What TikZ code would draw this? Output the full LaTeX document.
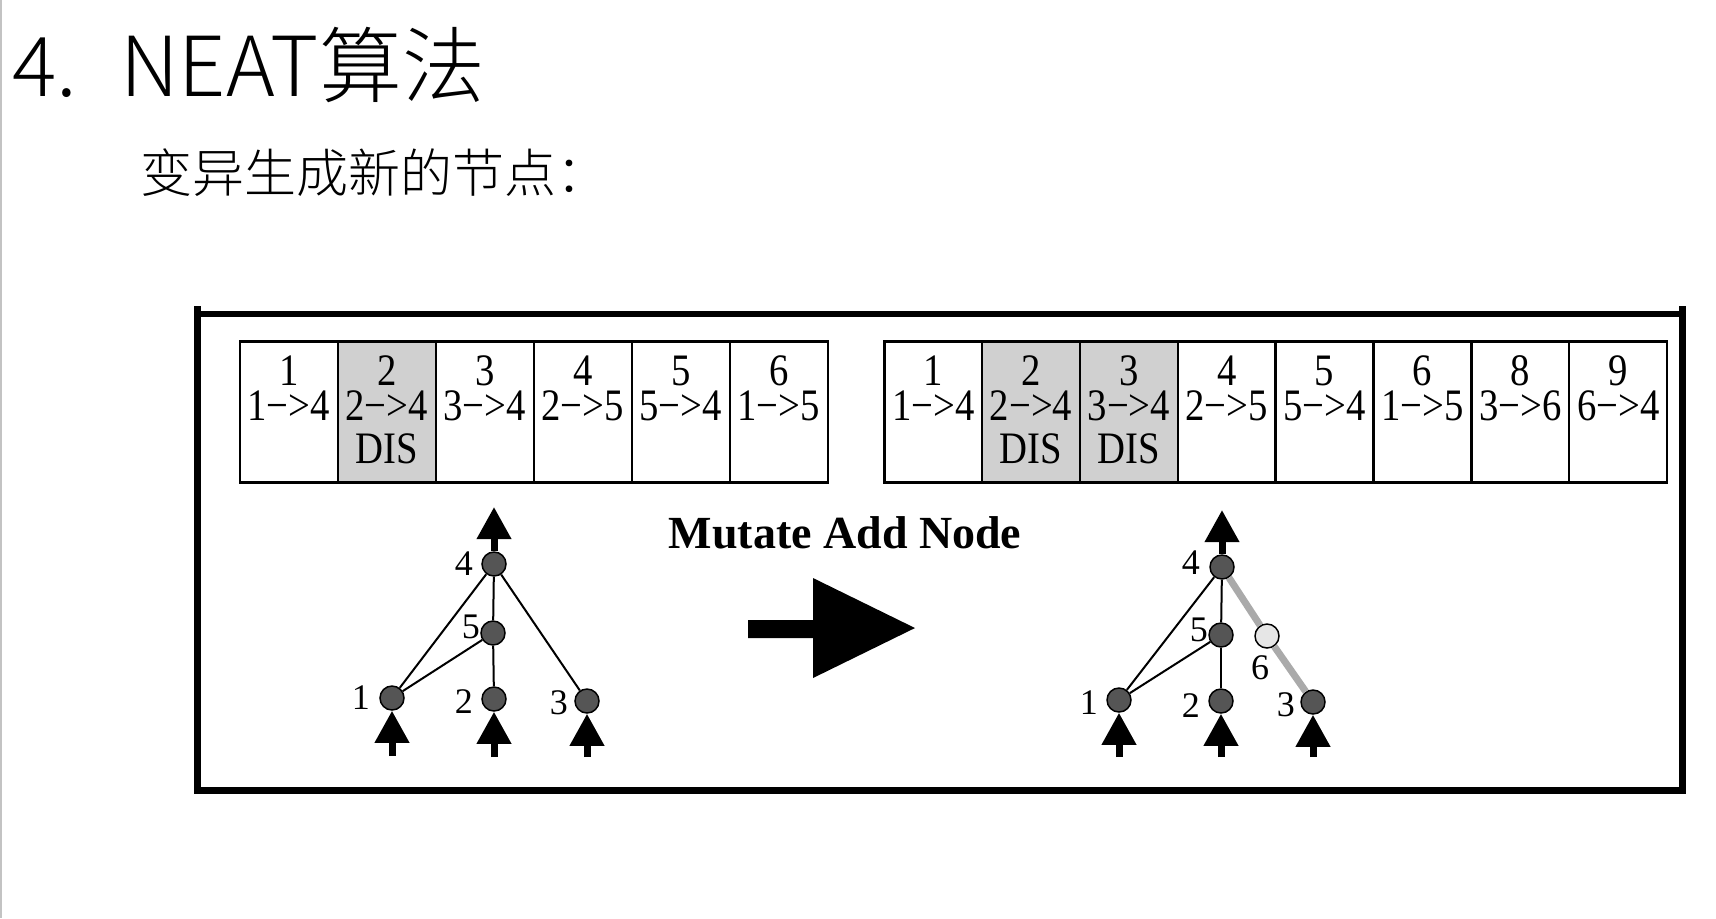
\documentclass[tikz,border=0pt]{standalone}
\usepackage{fontspec}
\setmainfont{Liberation Serif}
\IfFontExistsTF{Noto Sans CJK SC Light}
  {\newfontfamily\cjk{Noto Sans CJK SC Light}}
  {\newfontfamily\cjk{Noto Sans CJK SC}}
\usetikzlibrary{arrows.meta,positioning,calc}
\usepackage{xcolor}
\definecolor{celldis}{RGB}{208,208,208}
\definecolor{neurongray}{RGB}{85,85,85}
\definecolor{neuronnew}{RGB}{230,230,230}
\definecolor{linknew}{RGB}{170,170,170}
\definecolor{slideedge}{RGB}{195,195,195}
% one gene: name, x, innovation, connection, status, fill
\newcommand{\genecell}[6]{%
  \node[genebox, fill=#6] (#1) at (#2,340) {};
  \node[genetext] (#1text) at ($(#1.north)+(0,15.3)$) {#3\\#4\\[3.5pt]#5};}

\begin{document}
\begin{tikzpicture}[x=0.5pt, y=-0.5pt,
  genebox/.style={draw=black, line width=1.25pt, minimum width=49pt,
                  minimum height=70.5pt, anchor=north west, inner sep=0pt},
  genetext/.style={anchor=north, inner sep=0pt, align=center,
                   font=\fontsize{22.5}{17.65}\selectfont, xscale=0.86},
  neuron/.style={circle, draw=black, line width=0.75pt, fill=neurongray,
                 minimum size=12pt, inner sep=0pt},
  newneuron/.style={neuron, fill=neuronnew},
  link/.style={line width=1pt},
  newlink/.style={line width=3.5pt, draw=linknew},
  inarrow/.style={line width=3.5pt, -{Triangle[length=16pt, width=16.5pt]}},
  label distance=4pt,
  every label/.style={font=\fontsize{18}{18}\selectfont, inner sep=0pt}]

\useasboundingbox (0,0) rectangle (1716,918);
\draw[slideedge, line width=1pt] (1,0) -- (1,918);

% heading
\node[anchor=base west, inner sep=0pt, font=\cjk\fontsize{41.4}{41.4}\selectfont]
  (titlenum) at (12,96) {4.};
\node[anchor=base west, inner sep=0pt, font=\cjk\fontsize{41.4}{41.4}\selectfont]
  (title) at (120,96) {NEAT算法};
\node[anchor=base west, inner sep=0pt, font=\cjk\fontsize{26}{26}\selectfont]
  (subtitle) at (140,192) {变异生成新的节点：};

% frame
\draw[line width=3.5pt] (197,306) -- (197,790) -- (1682,790) -- (1682,306);
\draw[line width=2.75pt] (197,314) -- (1682,314);

% genomes
\foreach \innov/\conn/\off [count=\i from 0] in
  {1/1−>4/0,2/2−>4/1,3/3−>4/0,4/2−>5/0,5/5−>4/0,6/1−>5/0}{
  \ifnum\off=1 \genecell{pa\i}{238.5+98*\i}{\innov}{\conn}{DIS}{celldis}%
  \else \genecell{pa\i}{238.5+98*\i}{\innov}{\conn}{}{white}\fi}
\foreach \innov/\conn/\off [count=\i from 0] in
  {1/1−>4/0,2/2−>4/1,3/3−>4/1,4/2−>5/0,5/5−>4/0,6/1−>5/0,8/3−>6/0,9/6−>4/0}{
  \ifnum\off=1 \genecell{pb\i}{883+97.85*\i}{\innov}{\conn}{DIS}{celldis}%
  \else \genecell{pb\i}{883+97.85*\i}{\innov}{\conn}{}{white}\fi}

% network before
\node[neuron, label=left:4] (a4) at (494,564) {};
\node[neuron, label={[label distance=0pt, yshift=3pt]left:5}] (a5) at (493,633) {};
\node[neuron, label={[label distance=4.5pt]left:1}] (a1) at (392,698) {};
\node[neuron, label={[yshift=-1.5pt]left:2}] (a2) at (494,699) {};
\node[neuron, label={[yshift=-1pt, label distance=3pt]left:3}] (a3) at (587,701) {};
\coordinate (a4out) at (494,507);
\coordinate (a1in) at (392,756);
\coordinate (a2in) at (494,757);
\coordinate (a3in) at (587,757);
\draw[link] (a4) -- (a1);
\draw[link] (a4) -- (a5);
\draw[link] (a4) -- (a3);
\draw[link] (a5) -- (a1);
\draw[link] (a5) -- (a2);
\draw[inarrow] (a4) -- (a4out);
\draw[inarrow] (a1in) -- (a1);
\draw[inarrow] (a2in) -- (a2);
\draw[inarrow] (a3in) -- (a3);

% mutation
\node[font=\bfseries\fontsize{23}{23}\selectfont] (mutlabel) at (845,533) {Mutate Add Node};
\fill (748,620) -- (813,620) -- (813,578) -- (915,628) -- (813,678)
  -- (813,638) -- (748,638) -- cycle;

% network after
\node[neuron, label={[yshift=2pt, label distance=4.5pt]left:4}] (b4) at (1222,567) {};
\node[neuron, label={[label distance=0pt, yshift=2.5pt]left:5}] (b5) at (1221,635) {};
\node[newneuron, label={[xshift=-3.5pt, label distance=3pt]below:6}] (b6) at (1267,636) {};
\node[neuron, label={[yshift=-1.5pt]left:1}] (b1) at (1119,700) {};
\node[neuron, label={[yshift=-2.5pt]left:2}] (b2) at (1221,701) {};
\node[neuron, label={[yshift=-1.5pt, label distance=2.5pt]left:3}] (b3) at (1313,702) {};
\coordinate (b4out) at (1222,510);
\coordinate (b1in) at (1119,757);
\coordinate (b2in) at (1221,757);
\coordinate (b3in) at (1313,757);
\draw[link] (b4) -- (b1);
\draw[link] (b4) -- (b5);
\draw[link] (b5) -- (b1);
\draw[link] (b5) -- (b2);
\draw[newlink] (b4) -- (b6);
\draw[newlink] (b6) -- (b3);
\draw[inarrow] (b4) -- (b4out);
\draw[inarrow] (b1in) -- (b1);
\draw[inarrow] (b2in) -- (b2);
\draw[inarrow] (b3in) -- (b3);

\end{tikzpicture}
\end{document}
